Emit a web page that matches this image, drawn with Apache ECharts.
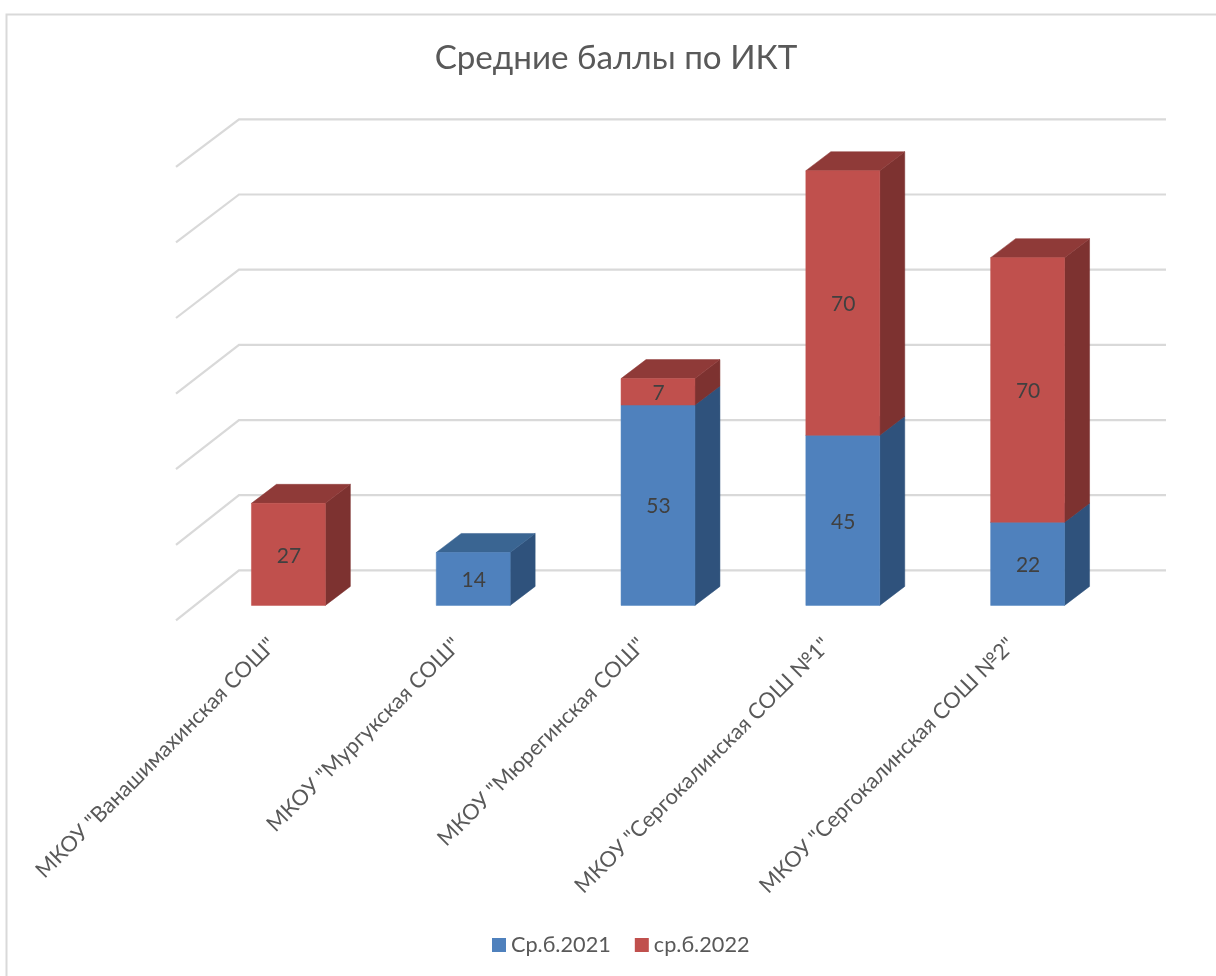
<!DOCTYPE html>
<html><head><meta charset="utf-8">
<style>html,body{margin:0;padding:0;background:#fff;overflow:hidden}#c{width:1216px;height:976px}</style>
<script src="https://cdn.jsdelivr.net/npm/echarts@6/dist/echarts.min.js"></script></head>
<body><div id="c"></div>
<script>
const categories = ['МКОУ "Ванашимахинская СОШ"','МКОУ "Мургукская СОШ"','МКОУ "Мюрегинская СОШ"','МКОУ "Сергокалинская СОШ №1"','МКОУ "Сергокалинская СОШ №2"'];
const avg2021 = [null,14,53,45,22];
const avg2022 = [27,null,7,70,70];
const gridTicks = [0,20,40,60,80,100,120];
const FONT = 'Lato,"Open Sans","Noto Sans",sans-serif';
const DX = 25, DY = 19, BACK_SCALE = 0.9945;
const chart = echarts.init(document.getElementById('c'));

function barItem(colors, baseOf){
  return function(params, api){
    const v = api.value(1);
    if (v === null || v === undefined || isNaN(v)) return null;
    const i = api.value(0);
    const b = baseOf(i);
    const p0 = api.coord([i, b]), p1 = api.coord([i, b + v]);
    const w = api.size([1,0])[0] * 0.4;
    const l = p0[0]-w/2, r = p0[0]+w/2, yb = p0[1], yt = p1[1];
    const poly = (pts, fill) => ({type:'polygon', shape:{points:pts}, style:{fill:fill, stroke:fill, lineWidth:0.5}});
    return {type:'group', children:[
      poly([[r,yb],[r+DX,yb-DY],[r+DX,yt-DY],[r,yt]], colors.side),
      poly([[l,yt],[r,yt],[r+DX,yt-DY],[l+DX,yt-DY]], colors.top),
      poly([[l,yb],[r,yb],[r,yt],[l,yt]], colors.front),
      {type:'text', x:p0[0]+0.5, y:(yb+yt)/2+1.5, style:{text:String(v), fill:'#404040', font:'21px '+FONT, align:'center', verticalAlign:'middle'}}
    ]};
  };
}
function gridItem(params, api){
  const v = api.value(0);
  const c0 = api.coord([0, v]);
  const base = api.coord([0, 0]);
  const cs = params.coordSys;
  const left = cs.x - 20, y0 = c0[1] + 15;
  const bx = cs.x + 43, by = base[1] - 35 + (c0[1]-base[1])*BACK_SCALE, ex = cs.x + cs.width + 46;
  return {type:'polyline', shape:{points:[[left,y0],[bx,by],[ex,by]]}, style:{fill:null, stroke:'#d9d9d9', lineWidth:2.2}};
}
chart.setOption({
  animation:false,
  backgroundColor:'#fff',
  title:{text:'Средние баллы по ИКТ', left:611, top:37, textAlign:'center', textStyle:{fontFamily:FONT, fontSize:33.2, fontWeight:'normal', color:'#595959'}},
  legend:{data:['Ср.б.2021','ср.б.2022'], left:487, top:929, itemWidth:14, itemHeight:14, itemGap:24, icon:'rect', textStyle:{fontFamily:FONT, fontSize:21.7, color:'#595959'}},
  grid:{left:196, width:924, top:151.8, height:453.6},
  xAxis:{type:'category', data:categories, axisLine:{show:false}, axisTick:{show:false}, splitLine:{show:false},
    axisLabel:{rotate:45, interval:0, margin:20, padding:[0,23,0,0], fontFamily:FONT, fontSize:21.7, color:'#595959'}},
  yAxis:{type:'value', min:0, max:120, interval:20, show:false, splitLine:{show:false}},
  graphic:[{type:'rect', left:4, top:12, shape:{width:1400, height:1200}, style:{fill:null, stroke:'#d9d9d9', lineWidth:2}, silent:true, z:-10}],
  series:[
    {type:'custom', name:'grid', coordinateSystem:'cartesian2d', renderItem:gridItem, data:gridTicks.map(v=>[v]), encode:{x:-1,y:0}, silent:true, z:1},
    {type:'custom', name:'Ср.б.2021', coordinateSystem:'cartesian2d', itemStyle:{color:'#4f81bd'}, z:2,
      renderItem:barItem({front:'#4f81bd',side:'#2f527c',top:'#3a6592'}, ()=>0),
      data:categories.map((c,i)=>[i,avg2021[i]]), encode:{x:0,y:1}},
    {type:'custom', name:'ср.б.2022', coordinateSystem:'cartesian2d', itemStyle:{color:'#c0504d'}, z:3,
      renderItem:barItem({front:'#c0504d',side:'#7d3230',top:'#8f3a38'}, i=>avg2021[i]||0),
      data:categories.map((c,i)=>[i,avg2022[i]]), encode:{x:0,y:1}}
  ]
});
</script></body></html>
